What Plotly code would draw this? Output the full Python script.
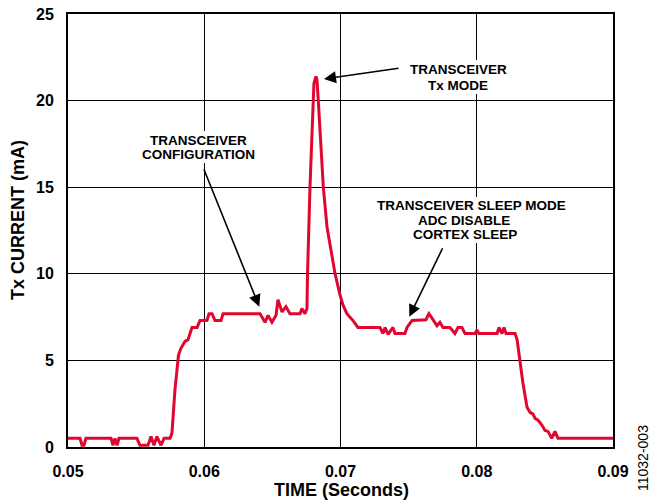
import plotly.graph_objects as go

# Time (seconds) and Tx current (mA)
time_s = [
    0.05000, 0.05088, 0.05103, 0.05117, 0.05132, 0.05316, 0.05330, 0.05345, 0.05360, 0.05374,
    0.05506, 0.05528, 0.05587, 0.05609, 0.05631, 0.05653, 0.05683, 0.05705, 0.05749, 0.05763,
    0.05785, 0.05800, 0.05811, 0.05829, 0.05859, 0.05881, 0.05910, 0.05947, 0.05969, 0.06020,
    0.06035, 0.06057, 0.06079, 0.06123, 0.06138, 0.06409, 0.06446, 0.06468, 0.06497, 0.06527,
    0.06541, 0.06571, 0.06600, 0.06629, 0.06703, 0.06717, 0.06739, 0.06754, 0.06758, 0.06776,
    0.06796, 0.06805, 0.06820, 0.06827, 0.06837, 0.06874, 0.06901, 0.06960, 0.06996, 0.07018,
    0.07047, 0.07092, 0.07128, 0.07290, 0.07312, 0.07327, 0.07349, 0.07385, 0.07400, 0.07473,
    0.07488, 0.07525, 0.07627, 0.07649, 0.07679, 0.07708, 0.07730, 0.07752, 0.07803, 0.07840,
    0.07862, 0.07891, 0.07914, 0.07987, 0.08002, 0.08016, 0.08149, 0.08163, 0.08185, 0.08200,
    0.08215, 0.08281, 0.08296, 0.08317, 0.08339, 0.08369, 0.08391, 0.08413, 0.08428, 0.08450,
    0.08479, 0.08501, 0.08523, 0.08550, 0.08574, 0.08596, 0.09000,
]
current_ma = [
    0.5, 0.5, 0.1, 0.1, 0.5, 0.5, 0.1, 0.5, 0.1, 0.5,
    0.5, 0.1, 0.1, 0.6, 0.1, 0.6, 0.1, 0.5, 0.5, 0.8,
    3.3, 4.6, 5.3, 5.7, 6.1, 6.2, 6.9, 6.9, 7.3, 7.3,
    7.7, 7.7, 7.3, 7.3, 7.7, 7.7, 7.2, 7.6, 7.2, 7.6,
    8.5, 7.8, 8.1, 7.7, 7.7, 8.0, 7.7, 8.0, 10.0, 15.0,
    20.0, 21.0, 21.4, 21.2, 20.0, 15.0, 12.7, 10.0, 8.8, 8.2,
    7.7, 7.3, 6.9, 6.9, 6.55, 6.9, 6.5, 6.9, 6.55, 6.55,
    6.9, 7.3, 7.35, 7.7, 7.35, 7.0, 7.2, 6.9, 6.9, 6.55,
    6.9, 6.9, 6.55, 6.55, 6.75, 6.55, 6.55, 6.9, 6.55, 6.9,
    6.55, 6.55, 6.2, 4.9, 3.7, 2.3, 2.0, 1.9, 1.65, 1.55,
    1.25, 0.95, 0.9, 0.5, 0.9, 0.5, 0.5,
]

x_ticks = [0.05, 0.06, 0.07, 0.08, 0.09]
x_tick_labels = ["0.05", "0.06", "0.07", "0.08", "0.09"]
y_ticks = [0, 5, 10, 15, 20, 25]

# Callout arrows: tip (time, current) in data units
arrow_tips = [(0.06879, 21.25), (0.06404, 8.1), (0.07505, 7.52)]
arrow_offsets = [(76, -11), (-56, -139), (34, -70)]

FONT = "Arial, Liberation Sans, sans-serif"
RED = "#E0062F"

# Plot-area geometry in pixels
L, R, T, B = 68, 37, 14, 55
W, H = 650, 502
PW, PH = W - L - R, H - T - B


def px(x, y):
    """Pixel position in the figure -> paper coordinates."""
    return (x - L) / PW, (H - B - y) / PH


fig = go.Figure()
fig.add_trace(go.Scatter(
    x=time_s, y=current_ma, mode="lines",
    line=dict(color=RED, width=3), hoverinfo="skip", showlegend=False,
))

axis_common = dict(
    showgrid=True, gridcolor="black", gridwidth=1,
    showline=True, linecolor="black", linewidth=2, mirror=True,
    zeroline=False, ticks="", fixedrange=True, automargin=False,
    tickfont=dict(family=FONT, size=16, color="black", weight="bold"),
)

fig.update_xaxes(range=[0.05, 0.09], tickvals=x_ticks, ticktext=x_tick_labels,
                 ticklabelstandoff=9, **axis_common)
fig.update_yaxes(range=[0, 25], tickvals=y_ticks, ticklabelstandoff=9, **axis_common)

annotations = []
for (tx, ty), (ax, ay) in zip(arrow_tips, arrow_offsets):
    annotations.append(dict(
        x=tx, y=ty, xref="x", yref="y", ax=ax, ay=ay, text="",
        showarrow=True, arrowhead=2, arrowsize=1.5, arrowwidth=1.6, arrowcolor="black",
        standoff=0,
    ))

# White blocks behind the callout texts (hide gridlines as in the reference)
text_blocks = [(400, 60, 517, 94), (132, 131, 264, 163), (368, 197, 577, 243)]
shapes = []
for x0, y0, x1, y1 in text_blocks:
    p0 = px(x0, y1)
    p1 = px(x1, y0)
    shapes.append(dict(type="rect", xref="paper", yref="paper",
                       x0=p0[0], y0=p0[1], x1=p1[0], y1=p1[1],
                       fillcolor="white", line=dict(width=0), layer="above"))

label_font = dict(family=FONT, size=13.5, color="black")
label_lines = [
    ("TRANSCEIVER", 458, 69),
    ("Tx MODE", 458, 85),
    ("TRANSCEIVER", 198, 140),
    ("CONFIGURATION", 198, 154.5),
    ("TRANSCEIVER SLEEP MODE", 471, 206),
    ("ADC DISABLE", 464, 220.5),
    ("CORTEX SLEEP", 465, 234.5),
]
for text, x, y in label_lines:
    xp, yp = px(x, y)
    annotations.append(dict(
        x=xp, y=yp, xref="paper", yref="paper", showarrow=False,
        text=f"<b>{text}</b>", font=label_font, borderpad=0,
        xanchor="center", yanchor="middle",
    ))

# Axis titles
xp, yp = px(341, 490)
annotations.append(dict(x=xp, y=yp, xref="paper", yref="paper", showarrow=False,
                        text="<b>TIME (Seconds)</b>", font=dict(family=FONT, size=18, color="black"),
                        xanchor="center", yanchor="middle"))
xp, yp = px(18, 220)
annotations.append(dict(x=xp, y=yp, xref="paper", yref="paper", showarrow=False,
                        text="<b>Tx CURRENT (mA)</b>", textangle=-90,
                        font=dict(family=FONT, size=18, color="black"),
                        xanchor="center", yanchor="middle"))
# Figure code
xp, yp = px(643, 458)
annotations.append(dict(x=xp, y=yp, xref="paper", yref="paper", showarrow=False,
                        text="11032-003", textangle=-90,
                        font=dict(family="Liberation Sans Narrow, Arial Narrow, Liberation Sans, sans-serif",
                                  size=14, color="black"),
                        xanchor="center", yanchor="middle"))

fig.update_layout(
    width=W, height=H,
    margin=dict(l=L, r=R, t=T, b=B, autoexpand=False),
    paper_bgcolor="white", plot_bgcolor="white",
    annotations=annotations, shapes=shapes,
    showlegend=False,
)

fig.write_html("out.html", config={"displayModeBar": False},
               post_script="document.body.style.margin='0';document.body.style.overflow='hidden';")
